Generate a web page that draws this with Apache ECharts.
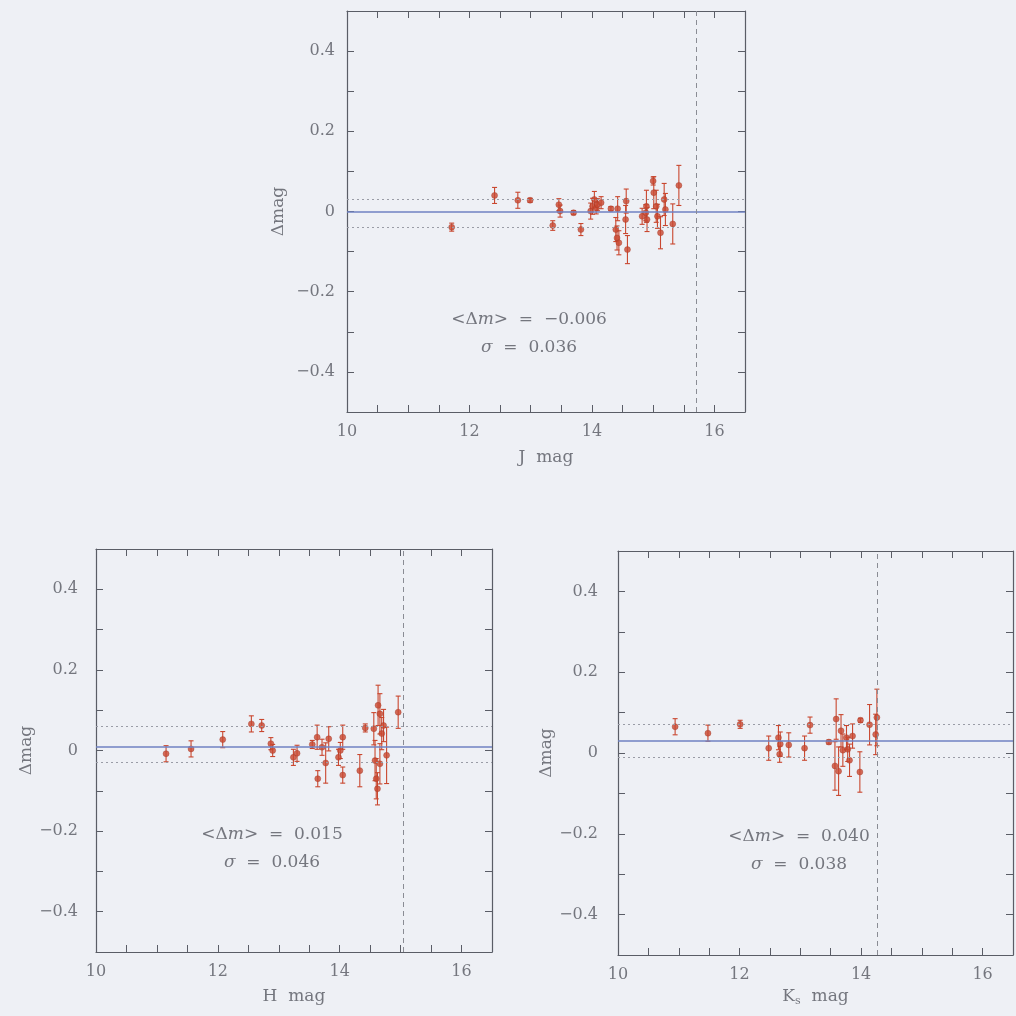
<!DOCTYPE html>
<html><head><meta charset="utf-8">
<script src="https://cdn.jsdelivr.net/npm/echarts@6/dist/echarts.min.js"></script>
<style>html,body{margin:0;padding:0;background:#eef0f5}#c{width:1016px;height:1016px}</style>
</head><body><div id="c"></div><script>
// ---- J band ----
const jMag=[11.71,12.41,12.79,12.99,13.36,13.46,13.48,13.70,13.82,13.98,14.01,14.04,14.07,14.09,14.15,14.31,14.39,14.41,14.42,14.44,14.55,14.56,14.58,14.82,14.88,14.89,14.90,15.00,15.01,15.05,15.07,15.12,15.18,15.20,15.32,15.42];
const jDelta=[-0.039,0.040,0.028,0.028,-0.035,0.017,0.001,-0.003,-0.045,0.001,0.013,0.030,0.009,0.017,0.022,0.007,-0.045,-0.066,0.007,-0.078,-0.020,0.026,-0.095,-0.012,-0.003,0.013,-0.020,0.076,0.047,0.013,-0.012,-0.053,0.030,0.005,-0.031,0.065];
const jErr=[0.01,0.02,0.02,0.005,0.012,0.015,0.015,0.005,0.015,0.02,0.02,0.02,0.015,0.015,0.015,0.005,0.03,0.03,0.03,0.03,0.035,0.03,0.035,0.02,0.02,0.04,0.03,0.01,0.04,0.04,0.03,0.04,0.04,0.04,0.05,0.05];
const jLines={mean:-0.004,upper:0.030,lower:-0.042,limit:15.7};
const jText=["−0.006","0.036"];
// ---- H band ----
const hMag=[11.15,11.56,12.08,12.55,12.72,12.87,12.90,13.24,13.30,13.55,13.63,13.64,13.71,13.77,13.82,13.98,14.01,14.05,14.05,14.33,14.42,14.56,14.58,14.60,14.62,14.63,14.66,14.66,14.69,14.72,14.77,14.96];
const hDelta=[-0.008,0.004,0.027,0.066,0.062,0.017,0.000,-0.017,-0.007,0.015,0.033,-0.070,0.008,-0.031,0.029,-0.017,0.000,0.033,-0.061,-0.050,0.056,0.054,-0.025,-0.070,-0.095,0.112,0.091,-0.033,0.042,0.062,-0.012,0.095];
const hErr=[0.02,0.02,0.02,0.02,0.015,0.015,0.015,0.02,0.02,0.01,0.03,0.02,0.02,0.05,0.03,0.02,0.02,0.03,0.02,0.04,0.01,0.04,0.05,0.05,0.04,0.05,0.05,0.05,0.04,0.04,0.07,0.04];
const hLines={mean:0.012,upper:0.062,lower:-0.034,limit:15.05};
const hText=["0.015","0.046"];
// ---- Ks band ----
const kMag=[10.94,11.48,12.01,12.48,12.64,12.66,12.67,12.81,13.07,13.16,13.47,13.57,13.59,13.63,13.67,13.70,13.76,13.78,13.81,13.86,13.98,13.99,14.14,14.24,14.26];
const kDelta=[0.065,0.049,0.071,0.012,0.038,-0.003,0.022,0.020,0.012,0.069,0.027,-0.032,0.084,-0.045,0.055,0.007,0.038,0.009,-0.018,0.042,-0.047,0.081,0.070,0.046,0.088];
const kErr=[0.02,0.02,0.01,0.03,0.03,0.02,0.03,0.03,0.03,0.02,0.005,0.06,0.05,0.06,0.04,0.04,0.03,0.03,0.04,0.03,0.05,0.005,0.05,0.05,0.07];
const kLines={mean:0.033,upper:0.071,lower:-0.005,limit:14.27};
const kText=["0.040","0.038"];
// ---- axes ----
const xTickLabels=[10,12,14,16];
const yTickLabels=[-0.4,-0.2,0,0.2,0.4];

const AX='#5a5d66', TXT='#74767e', RED='#c9472f', BLUE='#6f82c2', FONT='DejaVu Serif', FS=16;
const grids=[
  {left:347,top:11,width:398,height:401, yGap:60, yMargin:12, xGap:37, xName:'J  mag'},
  {left:96,top:549,width:396,height:403, yGap:60, yMargin:18, xGap:36, xName:'H  mag'},
  {left:618,top:551,width:395,height:404, yGap:58, yMargin:20, xGap:32, xName:'K'}
];
function fmtX(v){const r=Math.round(v*10)/10;return xTickLabels.indexOf(r)>=0?String(r):'';}
function fmtY(v){const r=Math.round(v*10)/10;if(yTickLabels.indexOf(r)<0)return'';return r<0?'−'+Math.abs(r):String(r);}
const xAxes=[],yAxes=[];
grids.forEach((g,i)=>{
  const common={type:'value',gridIndex:i,min:10,max:16.5,interval:0.5,
    axisLine:{onZero:false,lineStyle:{color:AX,width:1.2}},
    axisTick:{inside:true,length:7,lineStyle:{color:AX}},splitLine:{show:false}};
  const name = i===2 ? '{a|K}{s|s}{a|  mag}' : g.xName;
  xAxes.push(Object.assign({},common,{position:'bottom',name:name,nameLocation:'middle',nameGap:g.xGap,
    nameTextStyle:{color:TXT,fontFamily:FONT,fontSize:FS+1,rich:{a:{color:TXT,fontFamily:FONT,fontSize:FS+1},s:{color:TXT,fontFamily:FONT,fontSize:11,padding:[9,0,0,0]}}},
    axisLabel:{formatter:fmtX,color:TXT,fontFamily:FONT,fontSize:FS,margin:12,showMaxLabel:true}}));
  xAxes.push(Object.assign({},common,{position:'top',axisLabel:{show:false}}));
  const yc={type:'value',gridIndex:i,min:-0.5,max:0.5,interval:0.1,
    axisLine:{onZero:false,lineStyle:{color:AX,width:1.2}},
    axisTick:{inside:true,length:7,lineStyle:{color:AX}},splitLine:{show:false}};
  yAxes.push(Object.assign({},yc,{position:'left',name:'Δmag',nameLocation:'middle',nameGap:g.yGap,
    nameTextStyle:{color:TXT,fontFamily:FONT,fontSize:FS+1},
    axisLabel:{formatter:fmtY,color:TXT,fontFamily:FONT,fontSize:FS,margin:g.yMargin}}));
  yAxes.push(Object.assign({},yc,{position:'right',axisLabel:{show:false}}));
});
function errRender(params, api){
  const x=api.value(0), y=api.value(1), e=api.value(2);
  const t=api.coord([x,y+e]), b=api.coord([x,y-e]);
  const cw=2.5, st={stroke:RED,lineWidth:1.1};
  return {type:'group',children:[
    {type:'line',shape:{x1:t[0],y1:t[1],x2:b[0],y2:b[1]},style:st},
    {type:'line',shape:{x1:t[0]-cw,y1:t[1],x2:t[0]+cw,y2:t[1]},style:st},
    {type:'line',shape:{x1:b[0]-cw,y1:b[1],x2:b[0]+cw,y2:b[1]},style:st}]};
}
const panels=[[jMag,jDelta,jErr,jLines],[hMag,hDelta,hErr,hLines],[kMag,kDelta,kErr,kLines]];
const series=[];
panels.forEach((p,i)=>{
  const [mag,d,e,L]=p;
  const data=mag.map((m,k)=>[m,d[k],e[k]]);
  series.push({type:'custom',xAxisIndex:2*i,yAxisIndex:2*i,renderItem:errRender,data:data,encode:{x:0,y:1},silent:true,z:3});
  series.push({type:'scatter',xAxisIndex:2*i,yAxisIndex:2*i,data:data.map(r=>[r[0],r[1]]),symbolSize:6,
    itemStyle:{color:RED,borderColor:'#a33a28',borderWidth:0.5},silent:true,z:4,
    markLine:{silent:true,symbol:'none',label:{show:false},animation:false,data:[
      {yAxis:L.mean,lineStyle:{color:BLUE,width:1.5,type:'solid'}},
      {yAxis:L.upper,lineStyle:{color:'#9a9ca6',width:1,type:[2,3]}},
      {yAxis:L.lower,lineStyle:{color:'#9a9ca6',width:1,type:[2,3]}},
      {xAxis:L.limit,lineStyle:{color:'#8a8c94',width:1,type:[5,4]}}
    ]}});
});
const texts=[[529,320,jText],[272,835,hText],[799,837,kText]];
const rich={i:{fontStyle:'italic',fontFamily:FONT,fontSize:FS+1,fill:TXT},n:{fontFamily:FONT,fontSize:FS+1,fill:TXT}};
const graphic=[];
texts.forEach(([x,y,t])=>{
  graphic.push({type:'text',x:x,y:y,style:{text:'{n|<Δ}{i|m}{n|>  =  '+t[0]+'}',rich:rich,fill:TXT,align:'center',verticalAlign:'middle',textAlign:'center',textVerticalAlign:'middle'}});
  graphic.push({type:'text',x:x,y:y+28,style:{text:'{i|σ}{n|  =  '+t[1]+'}',rich:rich,fill:TXT,align:'center',verticalAlign:'middle',textAlign:'center',textVerticalAlign:'middle'}});
});
const chart=echarts.init(document.getElementById('c'));
chart.setOption({backgroundColor:'#eef0f5',animation:false,
  grid:grids.map(g=>({left:g.left,top:g.top,width:g.width,height:g.height})),
  xAxis:xAxes,yAxis:yAxes,series:series,graphic:graphic});
</script></body></html>
